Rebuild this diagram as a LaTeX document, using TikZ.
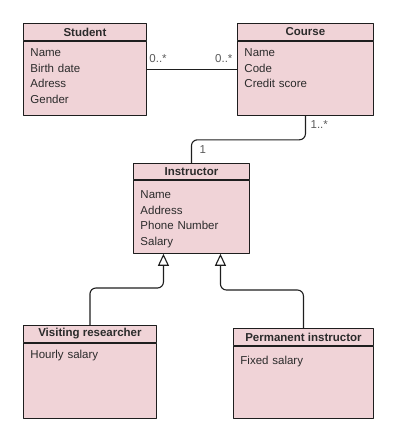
\documentclass[tikz,border=0pt]{standalone}
\usepackage{fontspec}
\setmainfont{Liberation Sans}
\usepackage{xcolor}
\definecolor{umlpink}{HTML}{F0D3D7}
\definecolor{umlline}{HTML}{1E1E1E}
\definecolor{umltext}{HTML}{2B2B2B}
\definecolor{umlgray}{HTML}{5A5A5A}
\usepackage{tikz}
\usetikzlibrary{arrows.meta,positioning}
\tikzset{
  every picture/.style={line cap=round, line join=round},
  classhead/.style={draw=umlline, fill=umlpink, line width=0.9pt, anchor=north west,
    minimum height=17pt, inner sep=0pt, font=\fontsize{11.5}{14}\selectfont\bfseries, text=umltext},
  classbody/.style={draw=umlline, fill=umlpink, line width=0.9pt, align=left,
    inner xsep=7pt, inner ysep=3pt, font=\fontsize{11.5}{15.8}\selectfont, text=umltext},
  mult/.style={font=\fontsize{11.5}{14}\selectfont, text=umlgray, inner sep=1pt},
  assoc/.style={umlline, line width=1.1pt, rounded corners=6pt},
  inherit/.style={assoc, -{Triangle[length=12pt, width=11pt, fill=white]}},
}

\begin{document}
\begin{tikzpicture}[x=1pt, y=-1pt]
\useasboundingbox (0,0) rectangle (402,437);
% classes
\node[classhead, minimum width=123pt] (stuhead) at (23,23) {Student};
\node[classbody, below=0pt of stuhead, minimum width=123pt, text width=109pt,
  text height=12pt, text depth=56pt] (stubody) {Name\\Birth date\\Adress\\Gender};
\node[classhead, minimum width=136pt] (crshead) at (237,23) {Course};
\node[classbody, below=0pt of crshead, minimum width=136pt, text width=122pt,
  text height=12pt, text depth=56pt] (crsbody) {Name\\Code\\Credit score};
\node[classhead, minimum width=116pt, minimum height=16pt] (inshead) at (133,163) {Instructor};
\node[classbody, below=0pt of inshead, minimum width=116pt, text width=102pt,
  text height=15pt, text depth=52pt] (insbody) {Name\\Address\\Phone Number\\Salary};
\node[classhead, minimum width=133pt] (vishead) at (23,325) {Visiting researcher};
\node[classbody, below=0pt of vishead, minimum width=133pt, text width=119pt,
  text height=12pt, text depth=57pt] (visbody) {Hourly salary};
\node[classhead, minimum width=140pt] (prmhead) at (233,328) {Permanent instructor};
\node[classbody, below=0pt of prmhead, minimum width=140pt, text width=126pt,
  text height=15pt, text depth=51pt] (prmbody) {Fixed salary};
% associations
\draw[assoc] ([yshift=9pt]stubody.east) -- ([yshift=9pt]crsbody.west)
  node[mult, pos=0, above right=5pt and 1pt] (stumult) {0..*}
  node[mult, pos=1, above left=5pt and 3pt] (crsmult) {0..*};
\draw[assoc] (crsbody.south) -- ++(0,24) -| (inshead.north);
\node[mult, below right=4pt and 4pt of crsbody.south] (teachmult) {1..*};
\node[mult, above right=8pt and 7pt of inshead.north] (insmult) {1};
% generalisation
\draw[inherit] (vishead.north) -- ++(0,-37) -| ([xshift=-28pt]insbody.south);
\draw[inherit] (prmhead.north) -- ++(0,-38) -| ([xshift=29pt]insbody.south);
\end{tikzpicture}
\end{document}
